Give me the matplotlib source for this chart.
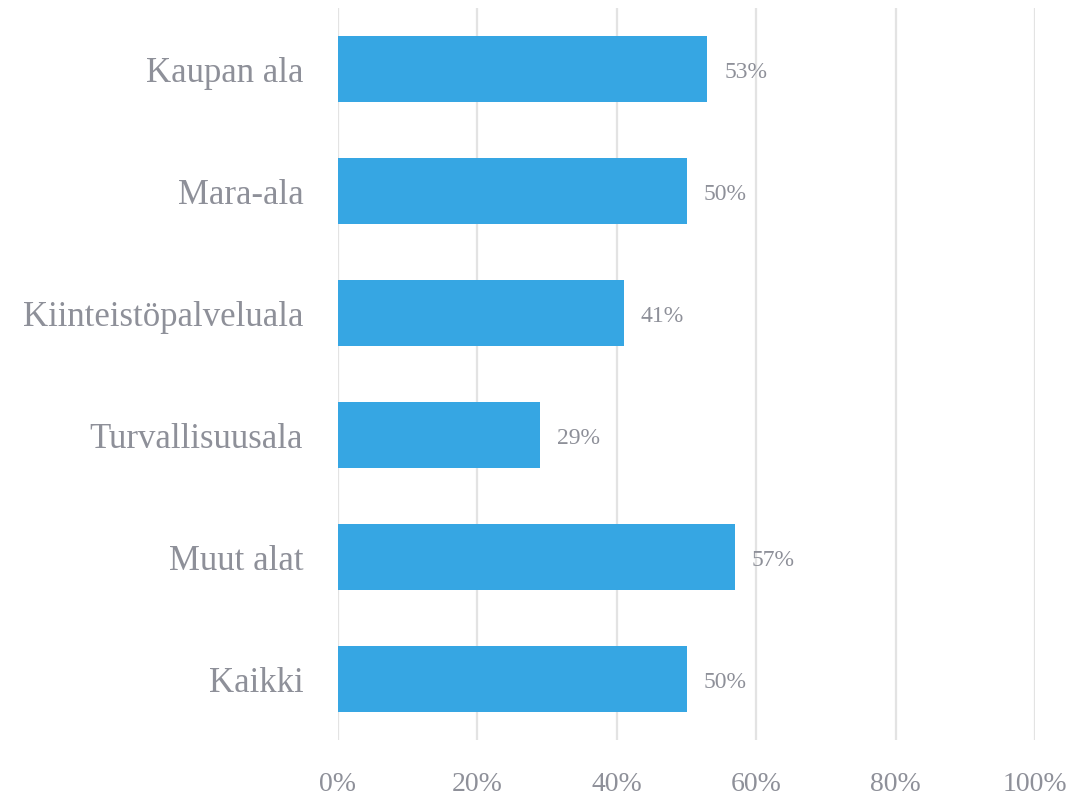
import matplotlib.pyplot as plt
import numpy as np

categories = ["Kaupan ala", "Mara-ala", "Kiinteistöpalveluala",
              "Turvallisuusala", "Muut alat", "Kaikki"]
shares = [53, 50, 41, 29, 57, 50]
xticks = [0, 20, 40, 60, 80, 100]

text_col = "#8e9099"
bar_col = "#36a6e3"

plt.rcParams['font.family'] = ['Liberation Serif', 'DejaVu Serif']

fig = plt.figure(figsize=(10.79, 7.96), dpi=100)
ax = fig.add_axes([338/1079, 1 - 740/796, (1035-338)/1079, (740-8)/796])

y = np.arange(len(categories))
ax.barh(y, shares, height=0.54, color=bar_col, zorder=3)
for yi, v in zip(y, shares):
    ax.text(v + 2.4, yi + 0.03, f"{v}%", va='center', ha='left',
            fontsize=17, color=text_col, zorder=4)

ax.set_ylim(len(categories) - 0.5, -0.5)
ax.set_xlim(0, 100)
ax.set_yticks(y)
ax.set_yticklabels(categories, fontsize=25, color=text_col)
ax.set_xticks(xticks)
ax.set_xticklabels([f"{t}%" for t in xticks], fontsize=20, color=text_col)
ax.tick_params(axis='y', length=0, pad=25)
ax.tick_params(axis='x', length=0, pad=23)

ax.grid(axis='x', color='#e3e3e3', linewidth=1.6, zorder=0)
for s in ax.spines.values():
    s.set_visible(False)

fig.savefig("out.png", dpi=100)
